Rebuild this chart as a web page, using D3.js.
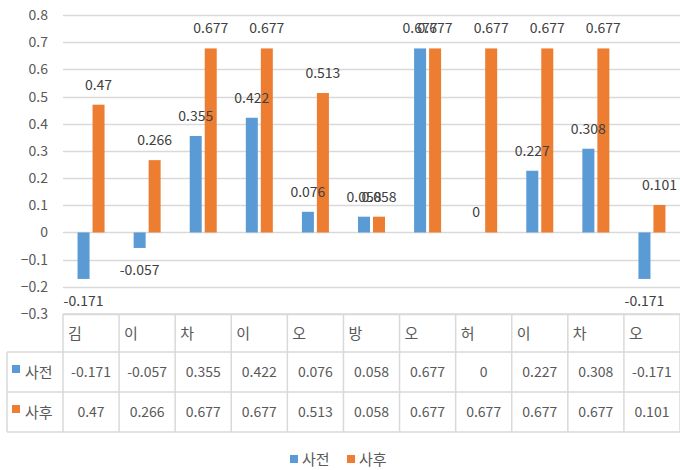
<!DOCTYPE html>
<html>
<head>
<meta charset="utf-8">
<script src="https://cdn.jsdelivr.net/npm/d3@7"></script>
<style>
  body { margin: 0; background: #fff; }
  svg { display: block; font-family: "Noto Sans CJK KR", "Noto Sans", sans-serif; }
</style>
</head>
<body>
<svg id="chart" width="680" height="470"></svg>
<script>
// 데이터
var categories = ['김', '이', '차', '이', '오', '방', '오', '허', '이', '차', '오'];
var seriesNames = ['사전', '사후'];
var before = [-0.171, -0.057, 0.355, 0.422, 0.076, 0.058, 0.677, 0, 0.227, 0.308, -0.171];
var after = [0.47, 0.266, 0.677, 0.677, 0.513, 0.058, 0.677, 0.677, 0.677, 0.677, 0.101];
var yTicks = [-0.3, -0.2, -0.1, 0, 0.1, 0.2, 0.3, 0.4, 0.5, 0.6, 0.7, 0.8];

var colors = ['#5B9BD5', '#ED7D31'];
var gridColor = '#D9D9D9';
var textColor = '#595959';

var svg = d3.select('#chart');

var x = d3.scaleBand().domain(d3.range(categories.length)).range([63, 680]).padding(0);
var xIn = d3.scaleBand().domain(seriesNames)
  .range([x.bandwidth() / 2 - 13.5, x.bandwidth() / 2 + 13.5]).paddingInner(0.2);
var y = d3.scaleLinear().domain([-0.3, 0.8]).range([314, 15]);

// 눈금선
svg.append('g').selectAll('line')
  .data(yTicks)
  .enter()
  .append('line')
  .attr('x1', 63).attr('x2', 680)
  .attr('y1', function(d) { return Math.round(y(d)) + 0.5; })
  .attr('y2', function(d) { return Math.round(y(d)) + 0.5; })
  .attr('stroke', gridColor)
  .attr('stroke-width', 1.5);

// y축 라벨
var yAxis = d3.axisLeft(y).tickValues(yTicks).tickSize(0).tickPadding(0)
  .tickFormat(function(d) { return d === 0 ? '0' : d3.format('.1f')(d); });
svg.append('g')
  .attr('transform', 'translate(48,0)')
  .call(yAxis)
  .call(function(g) { g.select('.domain').remove(); })
  .selectAll('text')
  .attr('fill', textColor)
  .style('font-size', '14px')
  .style('font-family', '"Noto Sans CJK KR", sans-serif');

// 막대
var data = seriesNames.map(function(name, s) {
  var vals = s === 0 ? before : after;
  return vals.map(function(v, i) { return { s: s, name: name, i: i, v: v }; });
});

svg.append('g').selectAll('g')
  .data(data)
  .enter()
  .append('g')
  .attr('fill', function(d, s) { return colors[s]; })
  .selectAll('rect')
  .data(function(d) { return d; })
  .enter()
  .append('rect')
  .attr('x', function(d) { return x(d.i) + xIn(d.name); })
  .attr('width', xIn.bandwidth())
  .attr('y', function(d) { return y(Math.max(0, d.v)); })
  .attr('height', function(d) { return Math.abs(y(d.v) - y(0)); });

// 데이터 라벨 (막대 위에 그림)
svg.append('g').selectAll('text')
  .data(d3.merge(data))
  .enter()
  .append('text')
  .attr('x', function(d) { return x(d.i) + xIn(d.name) + xIn.bandwidth() / 2; })
  .attr('y', function(d) { return d.v < 0 ? y(d.v) + 27 : y(d.v) - 15; })
  .attr('text-anchor', 'middle')
  .attr('fill', '#404040')
  .style('font-size', '14px')
  .text(function(d) { return d.v; });

// 데이터 표
var table = svg.append('g');
var rowY = [314, 352, 392, 432];
var lineStyle = function(sel) { return sel.attr('stroke', gridColor).attr('stroke-width', 1.5); };

table.append('line').attr('x1', 63).attr('x2', 680).attr('y1', rowY[0]).attr('y2', rowY[0]).call(lineStyle);
[1, 2, 3].forEach(function(r) {
  table.append('line').attr('x1', 7).attr('x2', 680).attr('y1', rowY[r]).attr('y2', rowY[r]).call(lineStyle);
});
table.append('line').attr('x1', 7).attr('x2', 7).attr('y1', rowY[1]).attr('y2', rowY[3]).call(lineStyle);
table.selectAll('.vline')
  .data(d3.range(categories.length + 1))
  .enter()
  .append('line')
  .attr('class', 'vline')
  .attr('x1', function(i) { return i < categories.length ? x(i) : 680; })
  .attr('x2', function(i) { return i < categories.length ? x(i) : 680; })
  .attr('y1', rowY[0]).attr('y2', rowY[3])
  .call(lineStyle);

// 항목 이름
table.selectAll('.cat')
  .data(categories)
  .enter()
  .append('text')
  .attr('class', 'cat')
  .attr('x', function(d, i) { return x(i) + 5; })
  .attr('y', 339)
  .attr('fill', textColor)
  .style('font-size', '15px')
  .text(function(d) { return d; });

// 계열 행
data.forEach(function(rows, s) {
  var cy = (rowY[s + 1] + rowY[s + 2]) / 2;
  table.append('rect')
    .attr('x', 12).attr('y', cy - 7).attr('width', 8).attr('height', 8)
    .attr('fill', colors[s]);
  table.append('text')
    .attr('x', 25).attr('y', cy + 6)
    .attr('fill', textColor)
    .style('font-size', '15px')
    .text(seriesNames[s]);
  table.selectAll('.val' + s)
    .data(rows)
    .enter()
    .append('text')
    .attr('class', 'val' + s)
    .attr('x', function(d) { return x(d.i) + x.bandwidth() / 2; })
    .attr('y', cy + 5)
    .attr('text-anchor', 'middle')
    .attr('fill', textColor)
    .style('font-size', '14px')
    .text(function(d) { return d.v; });
});

// 범례
var legend = svg.append('g').selectAll('g')
  .data(seriesNames)
  .enter()
  .append('g')
  .attr('transform', function(d, i) { return 'translate(' + (290 + i * 57) + ',455)'; });
legend.append('rect')
  .attr('width', 8).attr('height', 8)
  .attr('fill', function(d, i) { return colors[i]; });
legend.append('text')
  .attr('x', 12).attr('y', 10)
  .attr('fill', textColor)
  .style('font-size', '15px')
  .text(function(d) { return d; });
</script>
</body>
</html>
